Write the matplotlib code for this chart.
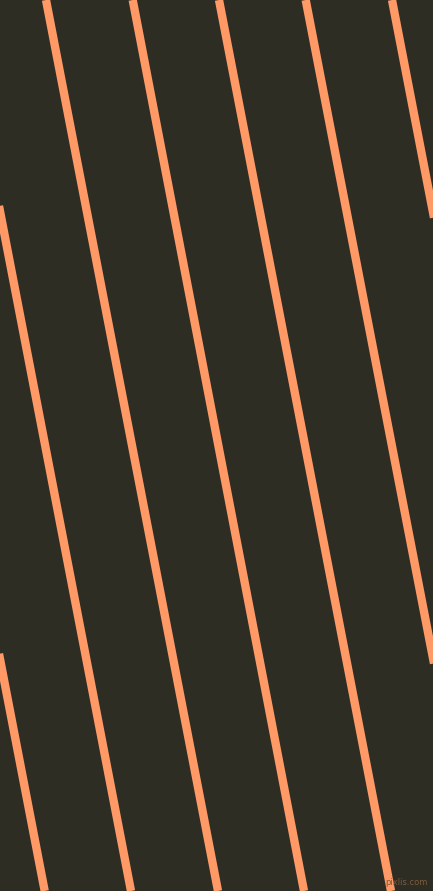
import matplotlib
matplotlib.use("Agg")
import matplotlib.pyplot as plt

# stripe positions (px) where each line meets the top and bottom edge
top_x = [-127.0, -40.7, 46.0, 132.7, 219.0, 305.7, 392.0]
bottom_x = [44.7, 131.0, 218.0, 304.0, 391.0, 478.0, 564.0]

W, H = 433, 891
bg = "#2d2d24"
stripe = "#ff9966"

fig = plt.figure(figsize=(W / 100, H / 100), dpi=100)
fig.patch.set_facecolor(bg)
ax = fig.add_axes([0, 0, 1, 1])
ax.set_facecolor(bg)

for x0, x1 in zip(top_x, bottom_x):
    ax.plot([x0, x1], [0, H], color=stripe, linewidth=6.0, solid_capstyle="butt")

ax.set_xlim(0, W)
ax.set_ylim(H, 0)
ax.axis("off")

ax.text(428, 887, "pixlis.com", color="#7d5b3c", fontsize=6, ha="right", va="bottom")

fig.savefig("out.png", dpi=100, facecolor=bg)
